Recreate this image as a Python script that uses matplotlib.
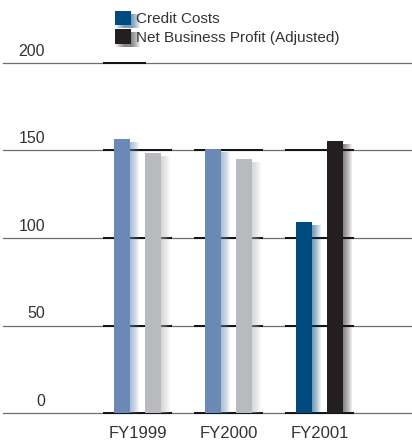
import matplotlib
matplotlib.use("Agg")
import matplotlib.pyplot as plt
import matplotlib.patheffects as pe
from matplotlib.patches import Patch
import numpy as np

years = ["FY1999", "FY2000", "FY2001"]
credit_costs = [156.5, 151.0, 109.0]
net_business_profit = [148.5, 145.0, 155.5]
y_ticks = [0, 50, 100, 150, 200]

credit_colors = ["#6a8ab5", "#6a8ab5", "#004a80"]
profit_colors = ["#b9babd", "#b9babd", "#231f20"]

plt.rcParams["font.family"] = ["Liberation Sans", "DejaVu Sans"]

W, H = 412, 440
DPI = 100
fig = plt.figure(figsize=(W / DPI, H / DPI), dpi=DPI)
ax = fig.add_axes([3 / W, 1 - 413 / H, 409 / W, 350 / H])

step = 91.0
x = np.arange(len(years))
x0 = -134.5 / step
ax.set_xlim(x0, x0 + 409 / step)
ax.set_ylim(0, 200)

# grid lines across the full width, darker segments behind each group
for t in y_ticks:
    ax.axhline(t, color="#6e6e6e", lw=0.9, zorder=1, clip_on=False)
half = 34.5 / step
for xi in x:
    for t in y_ticks[:-1]:
        ax.hlines(t, xi - half, xi + half, color="#111111", lw=1.4, zorder=1.5, clip_on=False)
ax.hlines(200, -half, 8.5 / step, color="#111111", lw=1.4, zorder=1.5, clip_on=False)

PT = 72.0 / DPI  # points per pixel

def soft_shadow(color):
    effects = []
    for k in range(9, 0, -1):
        effects.append(pe.SimplePatchShadow(offset=(k * PT, -3 * PT),
                                            shadow_rgbFace=color, alpha=0.08))
    effects.append(pe.Normal())
    return effects

bw = 16 / step
off = 15.5 / step
b1 = ax.bar(x - off, credit_costs, width=bw, color=credit_colors, zorder=3, linewidth=0)
b2 = ax.bar(x + off, net_business_profit, width=bw, color=profit_colors, zorder=3, linewidth=0)
for bars, cols in ((b1, credit_colors), (b2, profit_colors)):
    for b, c in zip(bars, cols):
        b.set_path_effects(soft_shadow(c))

for s in ax.spines.values():
    s.set_visible(False)
ax.set_yticks([])
ax.set_xticks(x)
ax.set_xticklabels(years, fontsize=12, color="#333333")
ax.tick_params(axis="x", length=0, pad=9)

label_x = x0 + 42 / step
for t in y_ticks:
    ax.text(label_x, t + 2.5, str(t), fontsize=11.5, color="#333333",
            ha="right", va="bottom")

handles = [Patch(facecolor="#004a80", label="Credit Costs"),
           Patch(facecolor="#231f20", label="Net Business Profit (Adjusted)")]
leg = fig.legend(handles=handles, loc="upper left", bbox_to_anchor=(115 / W, 1 - 11 / H),
                 frameon=False, fontsize=11, handlelength=1.05, handleheight=1.05,
                 handletextpad=0.3, labelspacing=0.2, borderaxespad=0, borderpad=0)
for txt in leg.get_texts():
    txt.set_color("#333333")
for hp, c in zip(leg.legend_handles, ["#004a80", "#231f20"]):
    hp.set_path_effects(soft_shadow(c))

fig.savefig("out.png", dpi=DPI)
